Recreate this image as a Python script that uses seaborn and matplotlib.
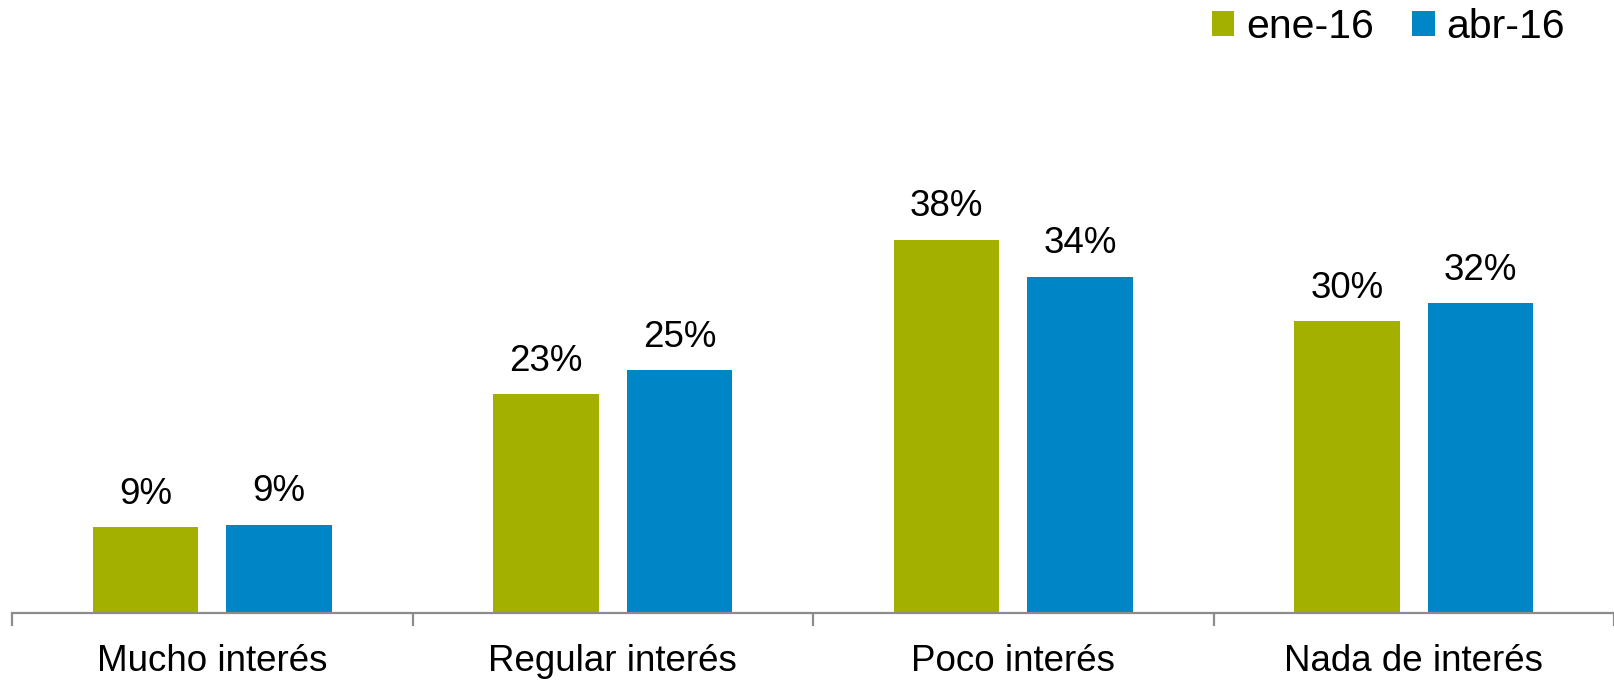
import numpy as np
import pandas as pd
import matplotlib
matplotlib.use("Agg")
import matplotlib.pyplot as plt
import seaborn as sns

# values (percent)
categories = ['Mucho interés', 'Regular interés', 'Poco interés', 'Nada de interés']
series = ['ene-16', 'abr-16']
ene16 = [8.8, 22.5, 38.4, 30.0]
abr16 = [9.1, 25.0, 34.6, 31.9]
ene16_labels = ['9%', '23%', '38%', '30%']
abr16_labels = ['9%', '25%', '34%', '32%']
colors = ['#A3B000', '#0086C7']

df = pd.DataFrame({
    'cat': categories * 2,
    'serie': [series[0]] * 4 + [series[1]] * 4,
    'val': ene16 + abr16,
})

sns.set_theme(style='white')
plt.rcParams['font.family'] = ['Liberation Sans', 'DejaVu Sans']

fig = plt.figure(figsize=(16.14, 6.8), dpi=100)
ax = fig.add_axes([12 / 1614, 67 / 680, 1602 / 1614, 486 / 680])

sns.barplot(data=df, x='cat', y='val', hue='serie', order=categories,
            hue_order=series, palette=colors, saturation=1,
            width=0.667, gap=0.21, linewidth=0, ax=ax)

for cont, labs in zip(ax.containers, [ene16_labels, abr16_labels]):
    ax.bar_label(cont, labels=labs, padding=11, fontsize=26.5, color='black')

ax.set_xlim(-0.5, 3.5)
ax.set_ylim(0, 50)
ax.set_xlabel('')
ax.set_ylabel('')
ax.set_yticks([])
for s in ['top', 'right', 'left']:
    ax.spines[s].set_visible(False)
ax.spines['bottom'].set_color('#8C8C8C')
ax.spines['bottom'].set_linewidth(1.6)

ax.set_xticks(range(4))
ax.set_xticklabels(categories, fontsize=26.5, color='black')
ax.set_xticks(np.arange(-0.5, 4, 1), minor=True)
ax.tick_params(axis='x', which='major', length=0, pad=22)
ax.tick_params(axis='x', which='minor', length=9.5, width=1.6,
               color='#8C8C8C', direction='out', bottom=True)

sns.move_legend(ax, 'upper right', bbox_to_anchor=(1567 / 1614, 1 - 6 / 680),
                bbox_transform=fig.transFigure, ncol=2, frameon=False,
                title=None, fontsize=29.5, handlelength=0.55,
                handleheight=0.55, handletextpad=0.29, columnspacing=0.93,
                borderpad=0.05, borderaxespad=0, labelcolor='black')

fig.savefig('out.png', dpi=100)
